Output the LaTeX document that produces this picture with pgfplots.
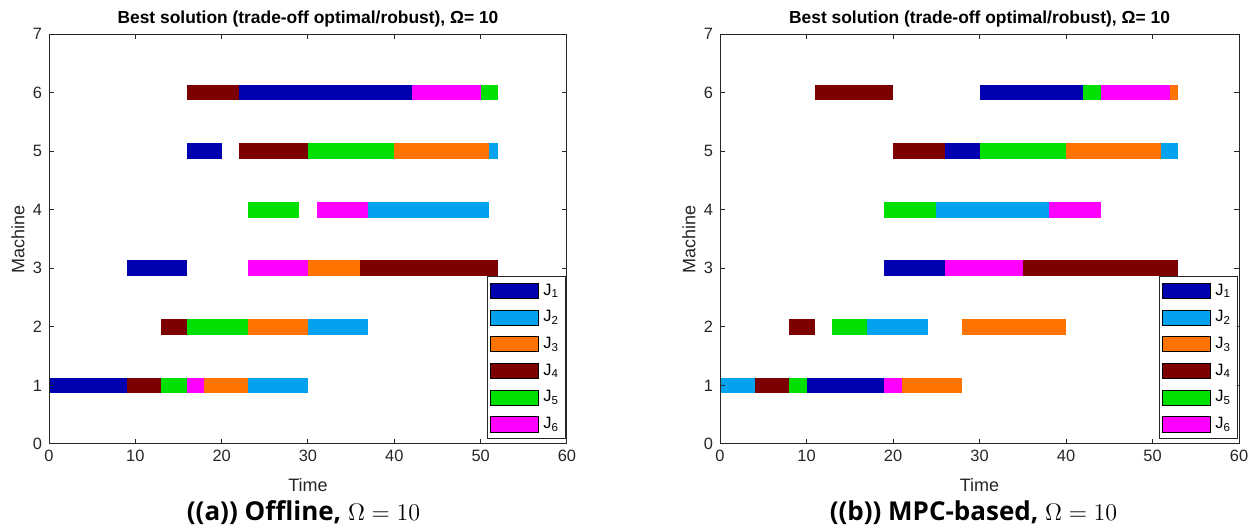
\documentclass[border=0pt]{standalone}
\usepackage{pgfplots}
\pgfplotsset{compat=1.18}
\usepackage{fontspec}
\setmainfont{Liberation Sans}
\newfontfamily\capfont{Open Sans}
\definecolor{J1}{HTML}{0000B0}
\definecolor{J2}{HTML}{03A2EF}
\definecolor{J3}{HTML}{FF7300}
\definecolor{J4}{HTML}{7C0000}
\definecolor{J5}{HTML}{00E000}
\definecolor{J6}{HTML}{FF00FF}
\definecolor{axgray}{HTML}{262626}
% \job{colour}{machine}{start}{end}
\newcommand\job[4]{%
  \pgfmathsetmacro\ylo{#2-0.135}%
  \pgfmathsetmacro\yhi{#2+0.135}%
  \edef\doit{\noexpand\addplot[fill=#1,draw=none,forget plot] coordinates {(#3,\ylo) (#4,\ylo) (#4,\yhi) (#3,\yhi)} -- cycle;}%
  \doit}
\pgfplotsset{
  gantt/.style={
    scale only axis,
    height=205pt,
    xmin=0, xmax=60, ymin=0, ymax=7,
    xtick={0,10,...,60}, ytick={0,1,...,7},
    /pgf/number format/assume math mode=true,
    tick align=inside,
    major tick length=2.5pt,
    axis line style={axgray, line width=0.5pt},
    every tick/.style={axgray, line width=0.5pt},
    tick label style={font=\fontsize{8.2}{9.5}\selectfont, text=axgray},
    xticklabel style={yshift=0.3pt},
    title style={font=\fontsize{8.7}{10}\selectfont\bfseries, at={(axis description cs:0.5,1)}, anchor=center, yshift=1.6pt},
    xlabel={Time}, ylabel={Machine},
    label style={font=\fontsize{9}{10.5}\selectfont, text=axgray},
    xlabel style={at={(axis description cs:0.5,0)}, anchor=center, yshift=-20.5pt},
    ylabel style={at={(axis description cs:-0.06,0.5)}, anchor=center},
    axis on top,
    legend cell align=left,
    legend image code/.code={\fill[##1] (0pt,-3.8pt) rectangle (24pt,3.8pt);},
    legend style={at={(axis description cs:0.999,0.012)}, anchor=south east,
      draw=axgray, line width=0.5pt, font=\fontsize{8.2}{9.5}\selectfont,
      inner xsep=1.5pt, inner ysep=1.5pt, row sep=2.2pt},
  }
}
\begin{document}
\begin{tikzpicture}
\path[use as bounding box] (0pt,0pt) rectangle (625.5pt,264.5pt);
% ---------- (a) Offline ----------
\begin{axis}[gantt, at={(24.5pt,42.5pt)}, anchor=south west, width=259pt,
  title={Best solution (trade-off optimal/robust), Ω= 10}]
% machine 6
\job{J4}{6}{16}{22}
\job{J1}{6}{22}{42}
\job{J6}{6}{42}{50}
\job{J5}{6}{50}{52}
% machine 5
\job{J1}{5}{16}{20}
\job{J4}{5}{22}{30}
\job{J5}{5}{30}{40}
\job{J3}{5}{40}{51}
\job{J2}{5}{51}{52}
% machine 4
\job{J5}{4}{23}{29}
\job{J6}{4}{31}{37}
\job{J2}{4}{37}{51}
% machine 3
\job{J1}{3}{9}{16}
\job{J6}{3}{23}{30}
\job{J3}{3}{30}{36}
\job{J4}{3}{36}{52}
% machine 2
\job{J4}{2}{13}{16}
\job{J5}{2}{16}{23}
\job{J3}{2}{23}{30}
\job{J2}{2}{30}{37}
% machine 1
\job{J1}{1}{0}{9}
\job{J4}{1}{9}{13}
\job{J5}{1}{13}{16}
\job{J6}{1}{16}{18}
\job{J3}{1}{18}{23}
\job{J2}{1}{23}{30}
\addlegendimage{fill=J1}\addlegendentry{J\textsubscript{1}}
\addlegendimage{fill=J2}\addlegendentry{J\textsubscript{2}}
\addlegendimage{fill=J3}\addlegendentry{J\textsubscript{3}}
\addlegendimage{fill=J4}\addlegendentry{J\textsubscript{4}}
\addlegendimage{fill=J5}\addlegendentry{J\textsubscript{5}}
\addlegendimage{fill=J6}\addlegendentry{J\textsubscript{6}}
\end{axis}
% ---------- (b) MPC-based ----------
\begin{axis}[gantt, at={(360pt,42.5pt)}, anchor=south west, width=259.5pt,
  title={Best solution (trade-off optimal/robust), Ω= 10}]
% machine 6
\job{J4}{6}{11}{20}
\job{J1}{6}{30}{42}
\job{J5}{6}{42}{44}
\job{J6}{6}{44}{52}
\job{J3}{6}{52}{53}
% machine 5
\job{J4}{5}{20}{26}
\job{J1}{5}{26}{30}
\job{J5}{5}{30}{40}
\job{J3}{5}{40}{51}
\job{J2}{5}{51}{53}
% machine 4
\job{J5}{4}{19}{25}
\job{J2}{4}{25}{38}
\job{J6}{4}{38}{44}
% machine 3
\job{J1}{3}{19}{26}
\job{J6}{3}{26}{35}
\job{J4}{3}{35}{53}
% machine 2
\job{J4}{2}{8}{11}
\job{J5}{2}{13}{17}
\job{J2}{2}{17}{24}
\job{J3}{2}{28}{40}
% machine 1
\job{J2}{1}{0}{4}
\job{J4}{1}{4}{8}
\job{J5}{1}{8}{10}
\job{J1}{1}{10}{19}
\job{J6}{1}{19}{21}
\job{J3}{1}{21}{28}
\addlegendimage{fill=J1}\addlegendentry{J\textsubscript{1}}
\addlegendimage{fill=J2}\addlegendentry{J\textsubscript{2}}
\addlegendimage{fill=J3}\addlegendentry{J\textsubscript{3}}
\addlegendimage{fill=J4}\addlegendentry{J\textsubscript{4}}
\addlegendimage{fill=J5}\addlegendentry{J\textsubscript{5}}
\addlegendimage{fill=J6}\addlegendentry{J\textsubscript{6}}
\end{axis}
% ---------- captions ----------
\node[font=\fontsize{13}{15}\selectfont\capfont\bfseries, anchor=center] at (151.75pt,8pt) {((a)) Offline, $\Omega=10$};
\node[font=\fontsize{13}{15}\selectfont\capfont\bfseries, anchor=center] at (486.75pt,8pt) {((b)) MPC-based, $\Omega=10$};
\end{tikzpicture}
\end{document}
